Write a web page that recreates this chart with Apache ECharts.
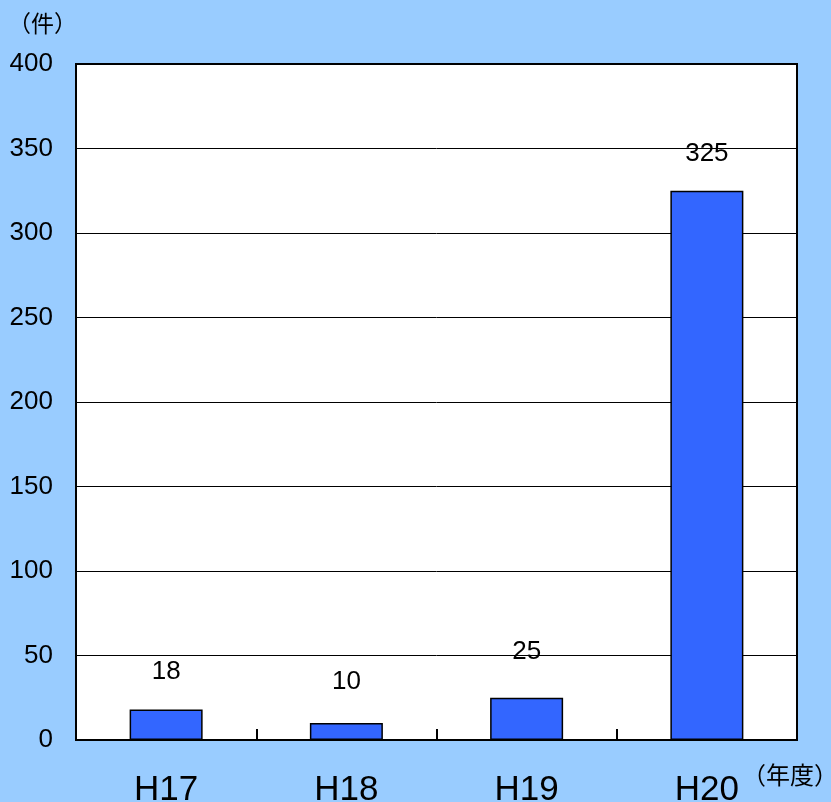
<!DOCTYPE html>
<html><head><meta charset="utf-8">
<script src="https://cdn.jsdelivr.net/npm/echarts@6/dist/echarts.min.js"></script>
<style>html,body{margin:0;padding:0;background:#99CCFF;}#c{width:831px;height:802px;}</style>
</head><body><div id="c"></div>
<script>
const categories = ['H17', 'H18', 'H19', 'H20'];
const values = [18, 10, 25, 325];
const yTicks = [0, 50, 100, 150, 200, 250, 300, 350, 400];
const labelGaps = [25, 28, 33, 24];

const chart = echarts.init(document.getElementById('c'), null, {renderer: 'canvas'});
chart.setOption({
  backgroundColor: '#99CCFF',
  animation: false,
  grid: {left: 76, right: 34, top: 64, bottom: 62, outerBoundsMode: 'none', containLabel: false, show: true, backgroundColor: '#ffffff', borderColor: '#000000', borderWidth: 2},
  graphic: [
    {type: 'text', left: 8, top: 12, style: {text: '（件）', font: '23px "Noto Sans CJK JP"', fill: '#000'}},
    {type: 'text', left: 742, top: 763, style: {text: '（年度）', font: '24px "Noto Sans CJK JP"', fill: '#000'}}
  ],
  xAxis: {
    type: 'category', data: categories,
    axisLine: {show: true, lineStyle: {color: '#000', width: 2}},
    axisTick: {show: true, inside: true, length: 11, interval: 0, alignWithLabel: false, lineStyle: {color: '#000', width: 2}},
    axisLabel: {fontSize: 35, color: '#000', fontFamily: '"Liberation Sans", Arial', margin: 33}
  },
  yAxis: {
    type: 'value', min: yTicks[0], max: yTicks[yTicks.length - 1], interval: 50,
    axisLine: {show: true, lineStyle: {color: '#000', width: 2}},
    axisTick: {show: false},
    splitLine: {show: true, lineStyle: {color: '#000', width: 1}},
    axisLabel: {fontSize: 26, color: '#000', fontFamily: '"Liberation Sans", Arial', margin: 23, padding: [5, 0, 0, 0]}
  },
  series: [{
    type: 'bar', barWidth: '40.5%',
    data: values.map((v, i) => ({value: v, label: {distance: labelGaps[i]}})),
    itemStyle: {color: '#3366FF', borderColor: '#000', borderWidth: 1.5},
    label: {show: true, position: 'top', fontSize: 26, color: '#000', fontFamily: '"Liberation Sans", Arial'}
  }]
});
</script></body></html>
